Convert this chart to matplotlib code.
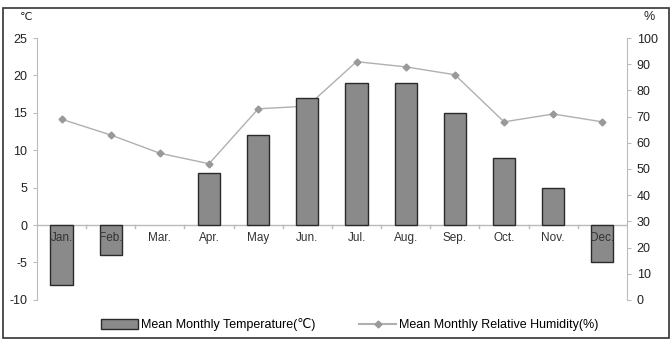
import matplotlib
matplotlib.use("Agg")
import matplotlib.pyplot as plt
from matplotlib.patches import Rectangle, Patch
from matplotlib.lines import Line2D
import numpy as np

plt.rcParams["font.family"] = ["Liberation Sans", "DejaVu Sans"]
plt.rcParams["axes.unicode_minus"] = False

months = ["Jan.", "Feb.", "Mar.", "Apr.", "May", "Jun.", "Jul.", "Aug.",
          "Sep.", "Oct.", "Nov.", "Dec."]
temperature = [-8, -4, 0, 7, 12, 17, 19, 19, 15, 9, 5, -5]
humidity = [69, 63, 56, 52, 73, 74, 91, 89, 86, 68, 71, 68]
temp_ticks = [-10, -5, 0, 5, 10, 15, 20, 25]
hum_ticks = [0, 10, 20, 30, 40, 50, 60, 70, 80, 90, 100]

fig = plt.figure(figsize=(6.72, 3.4), dpi=100)
fig.patch.set_facecolor("white")
fig.add_artist(Rectangle((0.005, 0.006), 0.99, 0.97, transform=fig.transFigure,
                         fill=False, edgecolor="#333333", lw=1.2))

ax = fig.add_axes([0.055, 0.118, 0.878, 0.77])
ax2 = ax.twinx()
ax.set_zorder(2)
ax.patch.set_visible(False)

x = np.arange(len(months))
edges = ["#2a2a2a" if v != 0 else "none" for v in temperature]
ax.bar(x, temperature, width=0.45, color="#8a8a8a", edgecolor=edges,
       lw=1.0, zorder=3)
ax.set_xlim(-0.5, len(months) - 0.5)
ax.set_ylim(-10, 25)
ax.set_yticks(temp_ticks)
ax.set_xticks([])
for i, m in enumerate(months):
    ax.text(i, -1.7, m, ha="center", va="center", fontsize=8.5, color="#333333",
            zorder=4)

ax2.plot(x, humidity, color="#b0b0b0", lw=1.0, marker="D", ms=3.5,
         mfc="#999999", mec="#999999", zorder=1)
ax2.set_ylim(0, 100)
ax2.set_yticks(hum_ticks)

for a in (ax, ax2):
    for s in a.spines.values():
        s.set_visible(False)
    a.tick_params(axis="y", labelsize=9, length=3, color="#bbbbbb",
                  labelcolor="#222222", pad=4)

ax.spines["left"].set_visible(True)
ax.spines["left"].set_color("#bbbbbb")
ax2.spines["right"].set_visible(True)
ax2.spines["right"].set_color("#bbbbbb")

# zero line with category separators
ax.axhline(0, color="#bbbbbb", lw=1.0, zorder=2)
for b in np.arange(0.5, len(months) - 0.5, 1.0):
    ax.plot([b, b], [0, -0.35], color="#bbbbbb", lw=1.0, zorder=2)

fig.text(0.030, 0.950, "℃", fontsize=8, ha="left", va="center", color="#222222")
fig.text(0.958, 0.950, "%", fontsize=9, ha="left", va="center", color="#222222")

handles = [Patch(facecolor="#8a8a8a", edgecolor="#2a2a2a", label="Mean Monthly Temperature(℃)"),
           Line2D([], [], color="#b0b0b0", marker="D", ms=3.5, mfc="#999999",
                  mec="#999999", label="Mean Monthly Relative Humidity(%)")]
fig.legend(handles=handles, loc="center", bbox_to_anchor=(0.52, 0.045), ncol=2,
           frameon=False, fontsize=9, handlelength=3.0, handleheight=0.8,
           columnspacing=3.5, handletextpad=0.2)

fig.savefig("out.png", dpi=100)
